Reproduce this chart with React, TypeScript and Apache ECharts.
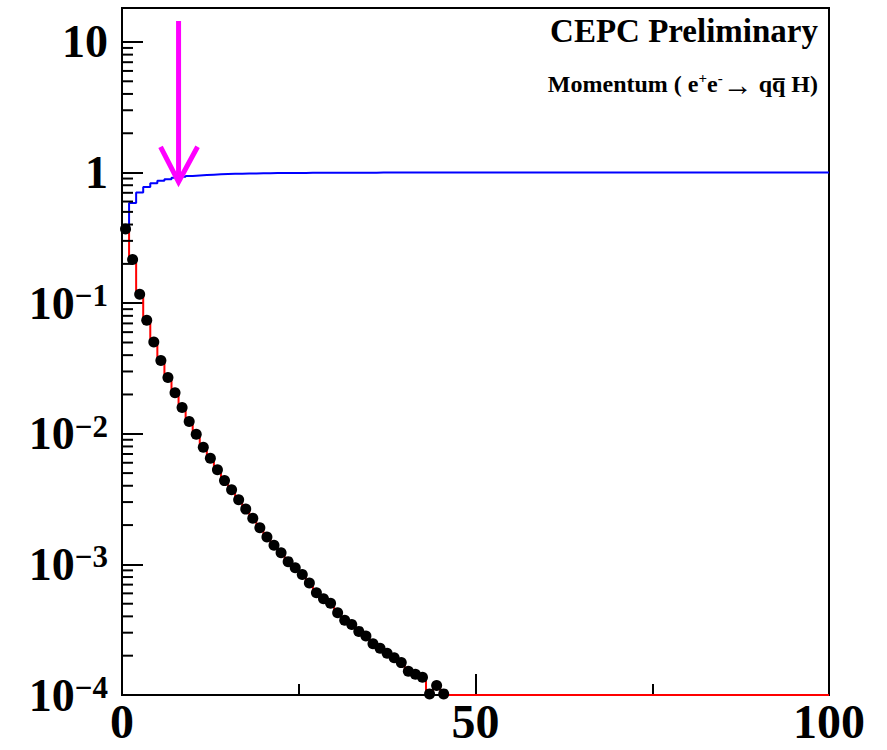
import React, { useEffect, useRef } from "react";
import * as echarts from "echarts";

// Histogram range (momentum), 1-unit bins
const binLow = 0;
const binHigh = 100;
// Normalised fraction per bin, bins 0..45 (later bins are empty)
const fractions = [
  0.37, 0.216, 0.117, 0.074, 0.0505, 0.0364, 0.027, 0.0206, 0.0159, 0.0124,
  0.0099, 0.0079, 0.0065, 0.0053, 0.00438, 0.00373, 0.00313, 0.00265, 0.00226, 0.00191,
  0.00162, 0.0014, 0.00123, 0.00105, 0.000944, 0.000838, 0.000719, 0.000607, 0.000545, 0.000505,
  0.000426, 0.000373, 0.000347, 0.000307, 0.000283, 0.000247, 0.000228, 0.000209, 0.000193, 0.000177,
  0.000152, 0.000144, 0.000137, 0.000102, 0.000118, 0.000102,
];
const yMin = 1e-4;
const yMax = 18.2;
const yDecades = [-4, -3, -2, -1, 0];
const minorMultipliers = [2, 3, 4, 5, 6, 7, 8, 9];
const xTickInterval = 50;
// Cut arrow
const arrowX = 8;
const arrowTop = 14.5;
const arrowTip = 0.85;

const FONT = '"Liberation Serif", "Times New Roman", serif';

export default function App() {
  const ref = useRef<HTMLDivElement>(null);
  useEffect(() => {
    if (!ref.current) return;
    const chart = echarts.init(ref.current, undefined, { renderer: "svg" });

    const nBins = binHigh - binLow;
    const binVal = (i: number) => (i < fractions.length ? fractions[i] : 0);
    const redData: number[][] = [];
    const blueData: number[][] = [];
    let cum = 0;
    for (let i = 0; i < nBins; i++) {
      const v = binVal(i);
      cum += v;
      redData.push([binLow + i, Math.max(v, yMin)]);
      blueData.push([binLow + i, Math.max(cum, yMin)]);
    }
    redData.push([binHigh, redData[redData.length - 1][1]]);
    blueData.push([binHigh, blueData[blueData.length - 1][1]]);
    const dots = fractions.map((v, i) => [binLow + i + 0.5, v]);
    const minorTicks: number[][] = [];
    yDecades.forEach((d) =>
      minorMultipliers.forEach((m) => {
        const v = m * Math.pow(10, d);
        if (v < yMax) minorTicks.push([binLow, v]);
      })
    );

    const option: any = {
      animation: false,
      backgroundColor: "#fff",
      grid: {
        left: 122,
        right: 58,
        top: 8,
        bottom: 55,
        show: true,
        borderColor: "#000",
        borderWidth: 2,
        backgroundColor: "transparent",
      },
      xAxis: {
        type: "value",
        min: binLow,
        max: binHigh,
        interval: xTickInterval,
        axisLine: { show: true, lineStyle: { color: "#000", width: 2 } },
        axisTick: { show: true, inside: true, length: 21, lineStyle: { color: "#000", width: 2 } },
        minorTick: { show: true, splitNumber: 2, length: 11, lineStyle: { color: "#000", width: 2 } },
        splitLine: { show: false },
        axisLabel: {
          margin: 3,
          color: "#000",
          fontFamily: FONT,
          fontWeight: "bold",
          fontSize: 48,
          lineHeight: 47,
        },
      },
      yAxis: {
        type: "log",
        logBase: 10,
        min: yMin,
        max: yMax,
        axisLine: { show: true, lineStyle: { color: "#000", width: 2 } },
        axisTick: { show: true, inside: true, length: 21, lineStyle: { color: "#000", width: 2 } },
        splitLine: { show: false },
        axisLabel: {
          margin: 14,
          showMaxLabel: false,
          formatter: (v: number) => {
            const l = Math.log10(v);
            const e = Math.round(l);
            if (Math.abs(l - e) > 1e-6) return "";
            if (e === 0) return "{b|1}";
            if (e === 1) return "{b|10}";
            return "{b|10}{s|\u2212" + Math.abs(e) + "}";
          },
          rich: {
            b: { fontSize: 46, fontWeight: "bold", fontFamily: FONT, color: "#000", lineHeight: 46 },
            s: {
              fontSize: 31,
              fontWeight: "bold",
              fontFamily: FONT,
              color: "#000",
              lineHeight: 29,
              verticalAlign: "top",
            },
          },
        },
      },
      series: [
        {
          type: "line",
          step: "end",
          data: blueData,
          showSymbol: false,
          lineStyle: { color: "#0000ff", width: 2 },
          z: 2,
        },
        {
          type: "line",
          step: "end",
          data: redData,
          showSymbol: false,
          lineStyle: { color: "#ff0000", width: 2 },
          z: 3,
        },
        {
          type: "scatter",
          data: dots,
          symbol: "circle",
          symbolSize: 11,
          itemStyle: { color: "#000", opacity: 1 },
          clip: false,
          z: 4,
        },
        {
          type: "custom",
          data: minorTicks,
          clip: false,
          z: 5,
          renderItem: (params: any, api: any) => {
            const p = api.coord([api.value(0), api.value(1)]);
            return {
              type: "line",
              shape: { x1: p[0], y1: p[1], x2: p[0] + 11, y2: p[1] },
              style: { stroke: "#000", lineWidth: 2 },
            };
          },
        },
        {
          type: "custom",
          data: [[arrowX, arrowTop, arrowTip]],
          clip: false,
          z: 6,
          renderItem: (params: any, api: any) => {
            const top = api.coord([api.value(0), api.value(1)]);
            const tip = api.coord([api.value(0), api.value(2)]);
            return {
              type: "group",
              children: [
                {
                  type: "line",
                  shape: { x1: top[0], y1: top[1], x2: tip[0], y2: tip[1] },
                  style: { stroke: "#ff00ff", lineWidth: 5 },
                },
                {
                  type: "polyline",
                  shape: {
                    points: [
                      [tip[0] - 18, tip[1] - 35],
                      [tip[0], tip[1]],
                      [tip[0] + 19, tip[1] - 35],
                    ],
                  },
                  style: { stroke: "#ff00ff", lineWidth: 5, fill: "none" },
                },
              ],
            };
          },
        },
      ],
      graphic: [
        {
          type: "text",
          x: 818,
          y: 31,
          style: {
            text: "CEPC Preliminary",
            align: "right",
            verticalAlign: "middle",
            font: 'bold 33px "Liberation Serif"',
            fill: "#000",
          },
          z: 10,
        },
        {
          type: "text",
          x: 818,
          y: 84,
          style: {
            text: "{a|Momentum ( e}{s|+}{a|e}{s|-}{r|\u2192}{a| q}{a|q\u0305}{a| H)}",
            align: "right",
            verticalAlign: "middle",
            rich: {
              a: { fontSize: 24, fontWeight: "bold", fontFamily: FONT, fill: "#000", lineHeight: 27 },
              r: { fontSize: 30, fontWeight: "bold", fontFamily: FONT, fill: "#000", lineHeight: 27 },
              s: {
                fontSize: 15,
                fontWeight: "bold",
                fontFamily: FONT,
                fill: "#000",
                lineHeight: 14,
                verticalAlign: "top",
              },
            },
          },
          z: 10,
        },
      ],
    };
    chart.setOption(option);
    return () => chart.dispose();
  }, []);
  return (
    <div
      ref={ref}
      style={{ position: "fixed", left: 0, top: 0, width: 887, height: 750, background: "#fff" }}
    />
  );
}
